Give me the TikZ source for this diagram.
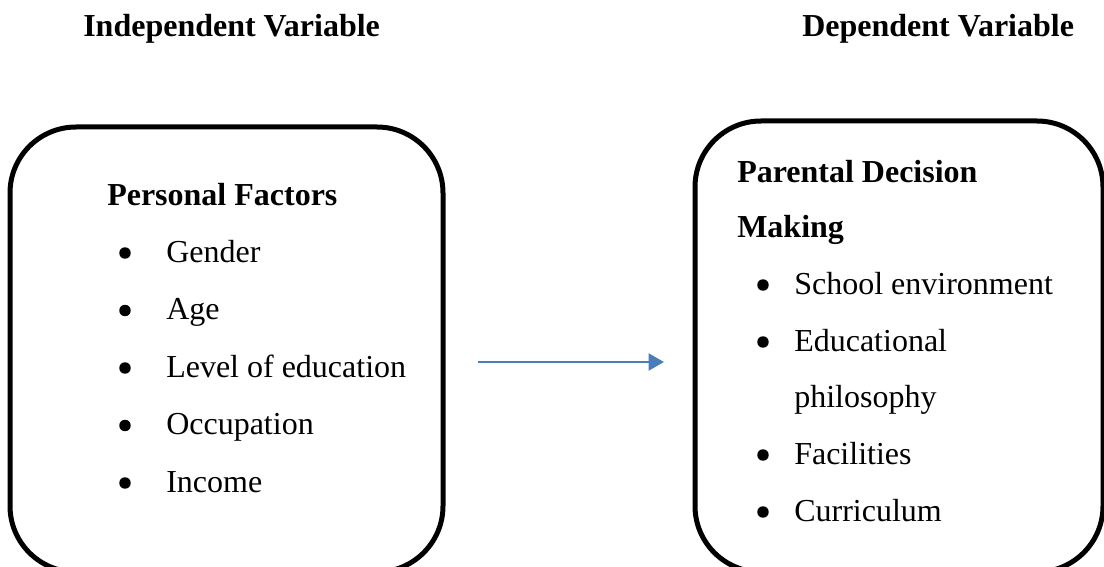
\documentclass[tikz,border=0pt]{standalone}
\usepackage{fontspec}
\setmainfont{Liberation Serif}
\usetikzlibrary{arrows.meta}
\definecolor{arrowblue}{RGB}{74,126,187}
\begin{document}
\begin{tikzpicture}[x=0.75pt,y=-0.75pt,
  txt/.style={anchor=base west,inner sep=0pt,font=\fontsize{24}{28}\selectfont},
  head/.style={txt,font=\fontsize{24}{28}\selectfont\bfseries},
  bul/.style={circle,fill=black,inner sep=0pt,minimum size=8.6pt},
  panel/.style={draw=black,line width=3.75pt,rounded corners=49.5pt,inner sep=0pt},
  link/.style={draw=arrowblue,line width=2.2pt,-{Triangle[length=11.5pt,width=12.5pt]}}]
\useasboundingbox (0,0) rectangle (1104,567);
\clip (0,0) rectangle (1104,567);

% column titles
\node[head] (tind) at (83,37) {Independent Variable};
\node[head] (tdep) at (802,37) {Dependent Variable};

% panels
\node[panel,minimum width=324.75pt,minimum height=333.75pt] (lbox) at (226.5,349.5) {};
\node[panel,minimum width=306pt,minimum height=338.25pt] (rbox) at (899,346.5) {};

% left panel contents
\node[head] (pf) at (107,205) {Personal Factors};
\foreach \y/\t/\n in {262/Gender/a,319.5/Age/b,377/Level of education/c,434.5/Occupation/d,492/Income/e}{
  \node[bul] (lb\n) at (125,\y-9) {};
  \node[txt] (lt\n) at (166,\y) {\t};
}

% right panel contents
\node[head] (pd1) at (737,182) {Parental Decision};
\node[head] (pd2) at (737,237) {Making};
\foreach \y/\t/\n in {294/School environment/a,351/Educational/b,464/Facilities/c,521/Curriculum/d}{
  \node[bul] (rb\n) at (763,\y-9) {};
  \node[txt] (rt\n) at (794,\y) {\t};
}
\node[txt] (rtb2) at (794,407.5) {philosophy};

% connector
\coordinate (afrom) at (478,362);
\coordinate (ato) at (664,362);
\draw[link] (afrom) -- (ato);
\end{tikzpicture}
\end{document}
